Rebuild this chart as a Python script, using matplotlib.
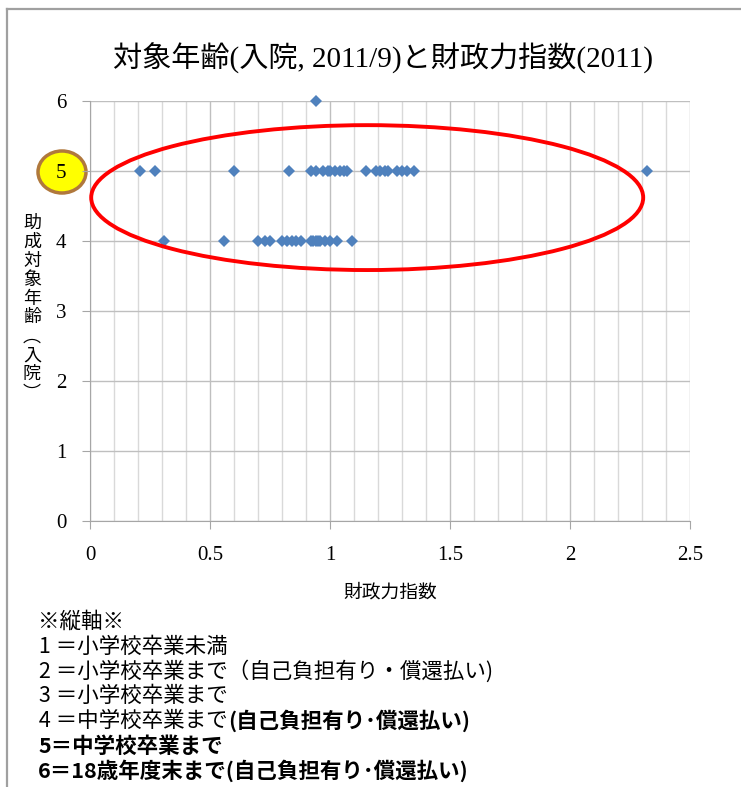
import numpy as np
import matplotlib.pyplot as plt
from matplotlib.patches import Ellipse
from matplotlib.lines import Line2D

# data: x = financial strength index, y = coverage age code
x_age6 = [0.94]
x_age5 = [0.21, 0.27, 0.60, 0.83, 0.92, 0.94, 0.97, 0.99, 1.00, 1.02, 1.04, 1.06, 1.07,
          1.15, 1.19, 1.21, 1.23, 1.24, 1.28, 1.30, 1.32, 1.35, 2.32]
x_age4 = [0.31, 0.56, 0.70, 0.73, 0.75, 0.80, 0.82, 0.84, 0.86, 0.88, 0.92, 0.93, 0.94,
          0.95, 0.96, 0.98, 1.00, 1.03, 1.09]

title = '対象年齢(入院, 2011/9)と財政力指数(2011)'
xlabel = '財政力指数'
ylabel_chars = '助成対象年齢︵入院︶'
x_ticks = [0, 0.5, 1, 1.5, 2, 2.5]
x_ticklabels = ['0', '0.5', '1', '1.5', '2', '2.5']
y_ticks = [0, 1, 2, 3, 4, 5, 6]

notes = [
    ('※縦軸※', 'normal'),
    (' 1 ＝小学校卒業未満', 'normal'),
    (' 2 ＝小学校卒業まで（自己負担有り・償還払い)', 'normal'),
    (' 3 ＝小学校卒業まで', 'normal'),
    (' 4 ＝中学校卒業まで', 'normal'),
    ('5＝中学校卒業まで', 'bold'),
    ('6＝18歳年度末まで(自己負担有り･償還払い)', 'bold'),
]
note4_tail = '(自己負担有り･償還払い)'

serif = ['Liberation Serif', 'Noto Sans CJK JP']
jp = ['Noto Sans CJK JP', 'DejaVu Sans']

fig = plt.figure(figsize=(7.41, 7.87), dpi=100)
ax = fig.add_axes([90 / 741, 1 - 521 / 787, 600 / 741, 420 / 787])

xs = x_age6 + x_age5 + x_age4
ys = [6] * len(x_age6) + [5] * len(x_age5) + [4] * len(x_age4)
ax.plot(xs, ys, 'D', color='#4F81BD', markersize=6.2, markeredgewidth=0, zorder=3,
        clip_on=False)

ax.set_xlim(0, 2.5)
ax.set_ylim(0, 6)
ax.set_xticks(x_ticks)
ax.set_xticklabels(x_ticklabels)
ax.set_xticks(np.arange(0, 2.51, 0.1), minor=True)
ax.set_yticks(y_ticks)
ax.grid(which='minor', axis='x', color='#D9D9D9', lw=1.0)
ax.grid(which='major', axis='x', color='#BFBFBF', lw=1.0)
ax.grid(which='major', axis='y', color='#BFBFBF', lw=1.0)
ax.set_axisbelow(True)
for s in ['top', 'right']:
    ax.spines[s].set_visible(False)
for s in ['left', 'bottom']:
    ax.spines[s].set_color('#A6A6A6')
ax.tick_params(axis='both', which='major', length=6, color='#A6A6A6', labelsize=15)
ax.tick_params(axis='x', which='minor', length=0)
for lab in ax.get_xticklabels() + ax.get_yticklabels():
    lab.set_family(serif)
ax.tick_params(axis='x', pad=12)
ax.tick_params(axis='y', pad=11)

ax.set_xlabel(xlabel, family=jp, fontsize=13.5, labelpad=12)

# red ellipse annotation
ax.add_patch(Ellipse((1.155, 4.62), 2.30, 2.07, fill=False, edgecolor='red', lw=2.8,
                     clip_on=False, zorder=4))

# yellow circle behind the "5" tick label
fig.patches.append(Ellipse((62 / 741, 1 - 172 / 787), 48 / 741, 42 / 787,
                           transform=fig.transFigure, facecolor='#FFFF00',
                           edgecolor='#B0783C', lw=2.5, zorder=-1))

fig.text(383 / 741, 1 - 58 / 787, title, ha='center', va='center', fontsize=21, family=serif)

fig.text(32 / 741, 1 - 308 / 787, '\n'.join(ylabel_chars), ha='center', va='center',
         fontsize=13, family=jp, linespacing=1.07)

# notes under the chart
y0 = 622
texts = []
for i, (txt, w) in enumerate(notes):
    xpos = 38 if txt.startswith(('※', '5', '6')) else 34
    t = fig.text(xpos / 741, 1 - (y0 + i * 24.8) / 787, txt, ha='left', va='center',
                 fontsize=15.5, family=jp, fontweight=w)
    texts.append(t)
# bold tail of note 4, placed right after its normal part
ax.annotate(note4_tail, xy=(1.0, 0.5), xycoords=texts[4], ha='left', va='center',
            fontsize=15.5, family=jp, fontweight='bold', annotation_clip=False)

# frame lines of the chart box
fig.add_artist(Line2D([7 / 741, 1], [1 - 9 / 787] * 2, transform=fig.transFigure,
                      color='#A0A0A0', lw=1.6))
fig.add_artist(Line2D([7 / 741] * 2, [0, 1 - 9 / 787], transform=fig.transFigure,
                      color='#A0A0A0', lw=1.6))

fig.savefig('out.png', dpi=100)
